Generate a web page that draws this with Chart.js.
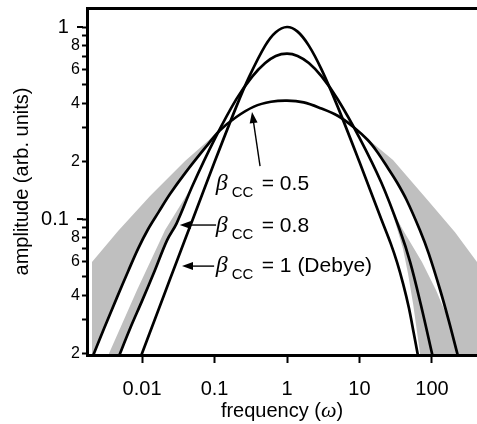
<!DOCTYPE html>
<html>
<head>
<meta charset="utf-8">
<script src="https://cdn.jsdelivr.net/npm/chart.js@4.4.1/dist/chart.umd.min.js"></script>
<style>
  html, body { margin: 0; padding: 0; background: #fff; }
  #wrap { position: relative; width: 477px; height: 424px; }
</style>
</head>
<body>
<div id="wrap"><canvas id="spectrum"></canvas></div>
<script>
// Cole-Cole loss peaks: amplitude vs. reduced frequency, log-log

// beta_CC = 1 (Debye)
const freqDebye = [0.0095, 0.015, 0.02, 0.03, 0.05, 0.1, 0.2, 0.3, 0.5, 0.7, 1, 1.4, 2, 3, 5, 10, 20, 27, 33, 40, 48, 56, 64, 70];
const ampDebye  = [0.019, 0.03, 0.04, 0.06, 0.0995, 0.198, 0.385, 0.55, 0.8, 0.94, 1.0, 0.946, 0.8, 0.6, 0.385, 0.198, 0.0998, 0.0745, 0.0595, 0.046, 0.0345, 0.0255, 0.0195, 0.016];

// beta_CC = 0.8
const freqCC08 = [0.0045, 0.007, 0.01, 0.015, 0.0221, 0.03, 0.05, 0.1, 0.2, 0.333, 0.5, 0.7, 1, 1.4, 2, 3, 5, 10, 20, 36, 50, 70, 100, 110];
const ampCC08  = [0.0182, 0.0275, 0.0375, 0.054, 0.0775, 0.095, 0.15, 0.26, 0.421, 0.553, 0.649, 0.707, 0.727, 0.707, 0.649, 0.553, 0.421, 0.265, 0.155, 0.0877, 0.0597, 0.036, 0.02, 0.017];

// beta_CC = 0.5
const freqCC05 = [0.002, 0.003, 0.0045, 0.0065, 0.0088, 0.012, 0.017, 0.0243, 0.04, 0.075, 0.119, 0.2, 0.35, 0.6, 1, 1.7, 2.9, 5, 8.4, 13, 17.4, 25, 33, 45, 68, 90, 130, 170, 221, 250];
const ampCC05  = [0.0185, 0.027, 0.039, 0.054, 0.07, 0.088, 0.109, 0.135, 0.175, 0.236, 0.29, 0.34, 0.385, 0.408, 0.414, 0.405, 0.378, 0.345, 0.30, 0.258, 0.225, 0.183, 0.155, 0.125, 0.0877, 0.0663, 0.0426, 0.0297, 0.0203, 0.017];

// grey spread, outer edge beyond the 0.5 peak
const outerLowFreq  = [0.00204, 0.00467, 0.0129, 0.0392];
const outerLowAmp   = [0.0597, 0.0866, 0.1318, 0.2005];
const outerHighFreq = [9.24, 29, 88, 208, 418, 1000];
const outerHighAmp  = [0.291, 0.203, 0.125, 0.0853, 0.0597, 0.037];

// grey spread around the 0.8 peak
const shoulderLowFreq  = [0.0031, 0.00351, 0.00853, 0.0208];
const shoulderLowAmp   = [0.0175, 0.02, 0.0427, 0.0877];
const shoulderHighFreq = [30, 39.8, 72.8, 113.5];
const shoulderHighAmp  = [0.107, 0.0877, 0.0597, 0.0427];
const shoulderInFreq   = [25, 31.9, 39.8, 46.7, 55, 68.3, 75];
const shoulderInAmp    = [0.124, 0.093, 0.07, 0.052, 0.036, 0.02, 0.0155];

const xTicks = [0.01, 0.1, 1, 10, 100];
const xTickText = ['0.01', '0.1', '1', '10', '100'];
const yTicks = [0.02, 0.03, 0.04, 0.05, 0.06, 0.07, 0.08, 0.09, 0.1, 0.2, 0.3, 0.4, 0.5, 0.6, 0.7, 0.8, 0.9, 1];
const yTickText = ['2', '', '4', '', '6', '', '8', '', '0.1  ', '2', '', '4', '', '6', '', '8', '', '1  '];
const yMajor = [0.1, 1];

const labels = [
  { freq: 0.104, amp: 0.1416, text: '= 0.5' },
  { freq: 0.104, amp: 0.0855, text: '= 0.8' },
  { freq: 0.104, amp: 0.053, text: '= 1 (Debye)' }
];
const arrows = [
  { from: [0.4245, 0.1888], to: [0.329, 0.3606] },
  { from: [0.105, 0.0931], to: [0.0332, 0.0931] },
  { from: [0.0987, 0.0569], to: [0.0356, 0.0569] }
];

const SANS = '"Liberation Sans", Arial, sans-serif';
const SERIF = '"Liberation Serif", "Times New Roman", serif';
const FLOOR = 0.012;

const xy = (fx, fy) => fx.map((x, i) => ({ x, y: fy[i] }));
const lineD = xy(freqDebye, ampDebye);
const line08 = xy(freqCC08, ampCC08);
const line05 = xy(freqCC05, ampCC05);

// closed outlines for the grey areas
const spreadOuter = [
  { x: outerLowFreq[0], y: FLOOR },
  ...xy(outerLowFreq, outerLowAmp),
  ...line05.filter(p => p.x >= 0.119 && p.x <= 8.4),
  ...xy(outerHighFreq, outerHighAmp),
  { x: outerHighFreq[outerHighFreq.length - 1], y: FLOOR },
  ...line05.slice().reverse(),
  { x: freqCC05[0], y: FLOOR }
];
const spreadShoulder = [
  { x: shoulderLowFreq[0], y: FLOOR },
  ...xy(shoulderLowFreq, shoulderLowAmp),
  ...line08.filter(p => p.x >= 0.05 && p.x <= 20),
  ...xy(shoulderHighFreq, shoulderHighAmp),
  ...line05.filter(p => p.x >= 170),
  { x: freqCC05[freqCC05.length - 1], y: FLOOR },
  ...xy(shoulderInFreq, shoulderInAmp).reverse(),
  ...line08.filter(p => p.x <= 20).reverse(),
  { x: freqCC08[0], y: FLOOR }
];

const curve = (label, data) => ({
  label, data, borderColor: '#000', borderWidth: 2.7, pointRadius: 0,
  tension: 0.35, fill: false, order: 1
});
const spread = (label, data) => ({
  label, data, borderWidth: 0, borderColor: 'rgba(0,0,0,0)', backgroundColor: '#bfbfbf',
  pointRadius: 0, tension: 0, fill: 'shape', order: 2
});

const callouts = {
  id: 'callouts',
  afterDraw(chart) {
    const { ctx, chartArea } = chart;
    const sx = chart.scales.x, sy = chart.scales.y;
    ctx.save();
    ctx.fillStyle = '#000';
    ctx.strokeStyle = '#000';

    // longer marks at the decades
    ctx.lineWidth = 2;
    yMajor.forEach(v => {
      const py = sy.getPixelForValue(v);
      ctx.beginPath();
      ctx.moveTo(chartArea.left - 10, py);
      ctx.lineTo(chartArea.left - 4, py);
      ctx.stroke();
    });

    // arrows pointing at the curves
    ctx.lineWidth = 1.4;
    arrows.forEach(a => {
      const x0 = sx.getPixelForValue(a.from[0]), y0 = sy.getPixelForValue(a.from[1]);
      const x1 = sx.getPixelForValue(a.to[0]), y1 = sy.getPixelForValue(a.to[1]);
      const ang = Math.atan2(y1 - y0, x1 - x0);
      const c = Math.cos(ang), s = Math.sin(ang);
      const bx = x1 - 11 * c, by = y1 - 11 * s;
      ctx.beginPath();
      ctx.moveTo(x0, y0);
      ctx.lineTo(bx, by);
      ctx.stroke();
      ctx.beginPath();
      ctx.moveTo(x1, y1);
      ctx.lineTo(bx - 4 * s, by + 4 * c);
      ctx.lineTo(bx + 4 * s, by - 4 * c);
      ctx.closePath();
      ctx.fill();
    });

    // beta_CC labels
    ctx.textBaseline = 'alphabetic';
    ctx.textAlign = 'left';
    labels.forEach(l => {
      const px = sx.getPixelForValue(l.freq), py = sy.getPixelForValue(l.amp);
      ctx.font = 'italic 24px ' + SERIF;
      ctx.fillText('\u03B2', px, py);
      ctx.font = '15px ' + SANS;
      ctx.fillText('CC', px + 16, py + 7);
      ctx.font = '21px ' + SANS;
      ctx.fillText(l.text, px + 46, py);
    });

    // x axis title with italic omega
    const parts = [
      ['frequency (', '20px ' + SANS],
      ['\u03C9', 'italic 22px ' + SERIF],
      [')', '20px ' + SANS]
    ];
    let total = 0;
    parts.forEach(p => { ctx.font = p[1]; total += ctx.measureText(p[0]).width; });
    let tx = (chartArea.left + chartArea.right) / 2 - total / 2;
    const ty = chart.height - 7;
    parts.forEach(p => {
      ctx.font = p[1];
      ctx.fillText(p[0], tx, ty);
      tx += ctx.measureText(p[0]).width;
    });
    ctx.restore();
  }
};

new Chart(document.getElementById('spectrum').getContext('2d'), {
  type: 'line',
  data: {
    datasets: [
      curve('\u03B2CC = 1 (Debye)', lineD),
      curve('\u03B2CC = 0.8', line08),
      curve('\u03B2CC = 0.5', line05),
      spread('spread 0.5', spreadOuter),
      spread('spread 0.8', spreadShoulder)
    ]
  },
  options: {
    responsive: true,
    maintainAspectRatio: false,
    animation: false,
    devicePixelRatio: 1,
    layout: { padding: { top: 8, right: 0, bottom: 0, left: 0 } },
    elements: { line: { capBezierPoints: false }, point: { radius: 0 } },
    plugins: { legend: { display: false }, tooltip: { enabled: false } },
    scales: {
      x: {
        type: 'logarithmic',
        position: 'bottom',
        min: 0.00174,
        max: 418,
        afterBuildTicks: s => { s.ticks = xTicks.map(v => ({ value: v })); },
        afterFit: s => { s.height = 69; s.paddingLeft = 0; s.paddingRight = 0; },
        ticks: {
          autoSkip: false,
          maxRotation: 0,
          padding: 14,
          color: '#000',
          font: { family: SANS, size: 20 },
          callback: (v, i) => xTickText[i]
        },
        grid: { drawOnChartArea: false, tickLength: 8, tickWidth: 2, tickColor: '#000' },
        border: { color: '#000', width: 3, z: 1 }
      },
      xTop: {
        type: 'logarithmic',
        position: 'top',
        min: 0.00174,
        max: 418,
        afterFit: s => { s.height = 0; s.paddingLeft = 0; s.paddingRight = 0; },
        ticks: { display: false },
        grid: { display: false, drawTicks: false },
        border: { color: '#000', width: 3, z: 1 }
      },
      y: {
        type: 'logarithmic',
        position: 'left',
        min: 0.0196,
        max: 1.256,
        afterBuildTicks: s => { s.ticks = yTicks.map(v => ({ value: v })); },
        afterFit: s => { s.width = 87; s.paddingTop = 0; s.paddingBottom = 0; },
        ticks: {
          autoSkip: false,
          padding: 2,
          color: '#000',
          font: c => ({ family: SANS, size: c.tick && yMajor.includes(c.tick.value) ? 20 : 16 }),
          callback: (v, i) => yTickText[i]
        },
        grid: { drawOnChartArea: false, tickLength: 5, tickWidth: 2, tickColor: '#000' },
        border: { color: '#000', width: 3, z: 1 },
        title: {
          display: true,
          text: 'amplitude (arb. units)',
          color: '#000',
          font: { family: SANS, size: 20 },
          padding: { top: 10, bottom: 0 }
        }
      }
    }
  },
  plugins: [callouts]
});
</script>
</body>
</html>
